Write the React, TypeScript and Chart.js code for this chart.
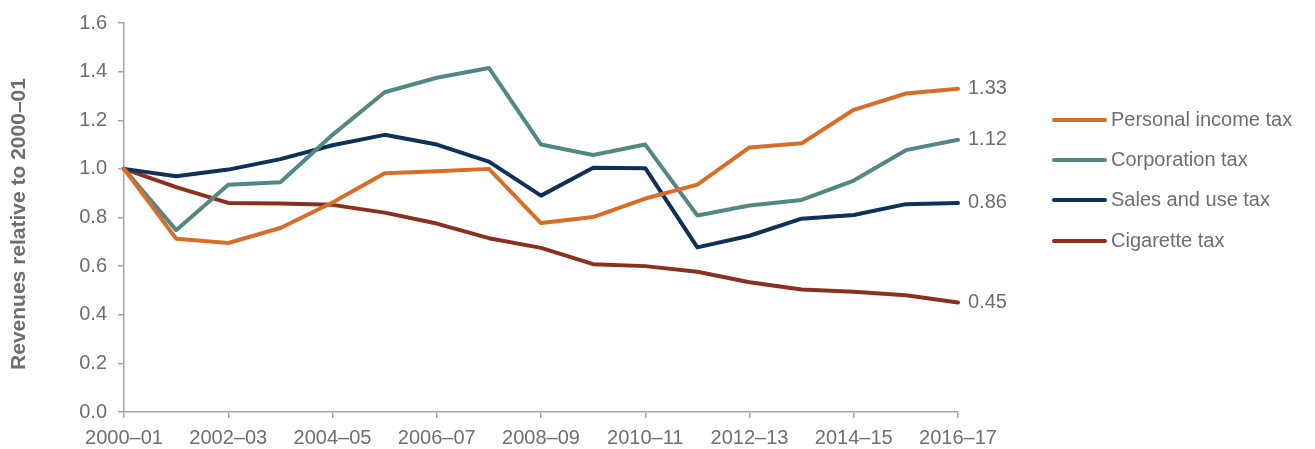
import React, { useEffect, useRef } from "react";
import { Chart, registerables, ChartConfiguration, Plugin } from "chart.js";

Chart.register(...registerables);

const years = [
  "2000–01", "2001–02", "2002–03", "2003–04", "2004–05", "2005–06",
  "2006–07", "2007–08", "2008–09", "2009–10", "2010–11", "2011–12",
  "2012–13", "2013–14", "2014–15", "2015–16", "2016–17",
];

const personalIncome = [1.0, 0.713, 0.695, 0.757, 0.862, 0.982, 0.99, 1.0, 0.777, 0.802, 0.878, 0.935, 1.088, 1.105, 1.243, 1.31, 1.33];
const corporation = [1.0, 0.748, 0.935, 0.945, 1.14, 1.315, 1.375, 1.415, 1.1, 1.057, 1.1, 0.808, 0.849, 0.872, 0.952, 1.077, 1.12];
const salesUse = [1.0, 0.97, 0.997, 1.04, 1.097, 1.14, 1.1, 1.03, 0.89, 1.005, 1.003, 0.677, 0.725, 0.795, 0.81, 0.855, 0.86];
const cigarette = [1.0, 0.925, 0.86, 0.858, 0.852, 0.82, 0.775, 0.715, 0.675, 0.608, 0.6, 0.577, 0.534, 0.504, 0.495, 0.48, 0.45];

const seriesNames = ["Personal income tax", "Corporation tax", "Sales and use tax", "Cigarette tax"];
const endLabels = ["1.33", "1.12", "0.86", "0.45"];
const COLORS = ["#d86d27", "#528784", "#0f3157", "#8b2f1f"];

const FONT = "'Liberation Sans', Arial, sans-serif";
const TEXT = "#6e6e6e";
const AXIS = "#a6a6a6";

// axis title, end-of-line values and legend
const annotations: Plugin<"line"> = {
  id: "annotations",
  afterDraw(chart) {
    const { ctx, chartArea } = chart;
    const yScale = chart.scales.y;
    ctx.save();

    ctx.fillStyle = TEXT;
    ctx.font = `bold 21px ${FONT}`;
    ctx.textAlign = "center";
    ctx.textBaseline = "middle";
    ctx.save();
    ctx.translate(19, 224);
    ctx.rotate(-Math.PI / 2);
    ctx.fillText("Revenues relative to 2000–01", 0, 0);
    ctx.restore();

    ctx.font = `20px ${FONT}`;
    ctx.textAlign = "left";
    chart.data.datasets.forEach((ds, i) => {
      const last = ds.data[ds.data.length - 1] as number;
      ctx.fillText(endLabels[i], chartArea.right + 10, yScale.getPixelForValue(last));
    });

    const rows = [120, 160, 200, 241];
    ctx.lineCap = "round";
    ctx.lineWidth = 4;
    seriesNames.forEach((name, i) => {
      ctx.strokeStyle = COLORS[i];
      ctx.beginPath();
      ctx.moveTo(1054, rows[i]);
      ctx.lineTo(1105, rows[i]);
      ctx.stroke();
      ctx.fillStyle = TEXT;
      ctx.fillText(name, 1111, rows[i]);
    });

    ctx.restore();
  },
};

export default function App() {
  const canvasRef = useRef<HTMLCanvasElement | null>(null);

  useEffect(() => {
    if (!canvasRef.current) return;
    const values = [personalIncome, corporation, salesUse, cigarette];

    const config: ChartConfiguration<"line"> = {
      type: "line",
      data: {
        labels: years,
        datasets: values.map((data, i) => ({
          label: seriesNames[i],
          data,
          borderColor: COLORS[i],
          backgroundColor: COLORS[i],
          borderWidth: 4,
          borderCapStyle: "round",
          borderJoinStyle: "round",
          pointRadius: 0,
          tension: 0,
          fill: false,
        })),
      },
      options: {
        animation: false,
        responsive: true,
        maintainAspectRatio: false,
        layout: { padding: { top: 21, right: 357, left: 0, bottom: 0 } },
        plugins: {
          legend: { display: false },
          tooltip: { enabled: false },
        },
        scales: {
          x: {
            type: "category",
            offset: false,
            afterFit: (scale) => {
              scale.height = 37;
            },
            grid: {
              display: true,
              drawOnChartArea: false,
              drawTicks: true,
              tickLength: 6,
              color: (c) => (c.index % 2 === 0 ? AXIS : "rgba(0,0,0,0)"),
              lineWidth: 1.5,
            },
            border: { color: AXIS, width: 1.5 },
            ticks: {
              autoSkip: false,
              maxRotation: 0,
              padding: 8,
              color: TEXT,
              font: { family: FONT, size: 20 },
              callback: (_v, i) => (i % 2 === 0 ? years[i] : ""),
            },
          },
          y: {
            min: 0,
            max: 1.6,
            afterFit: (scale) => {
              scale.width = 124;
            },
            grid: {
              display: true,
              drawOnChartArea: false,
              drawTicks: true,
              tickLength: 6,
              color: AXIS,
              lineWidth: 1.5,
            },
            border: { color: AXIS, width: 1.5 },
            ticks: {
              stepSize: 0.2,
              padding: 11,
              color: TEXT,
              font: { family: FONT, size: 20 },
              callback: (v) => Number(v).toFixed(1),
            },
          },
        },
      },
      plugins: [annotations],
    };

    const chart = new Chart(canvasRef.current, config);
    return () => chart.destroy();
  }, []);

  return (
    <div style={{ position: "fixed", left: 0, top: 0, width: 1315, height: 449, background: "#fff" }}>
      <canvas ref={canvasRef} />
    </div>
  );
}
